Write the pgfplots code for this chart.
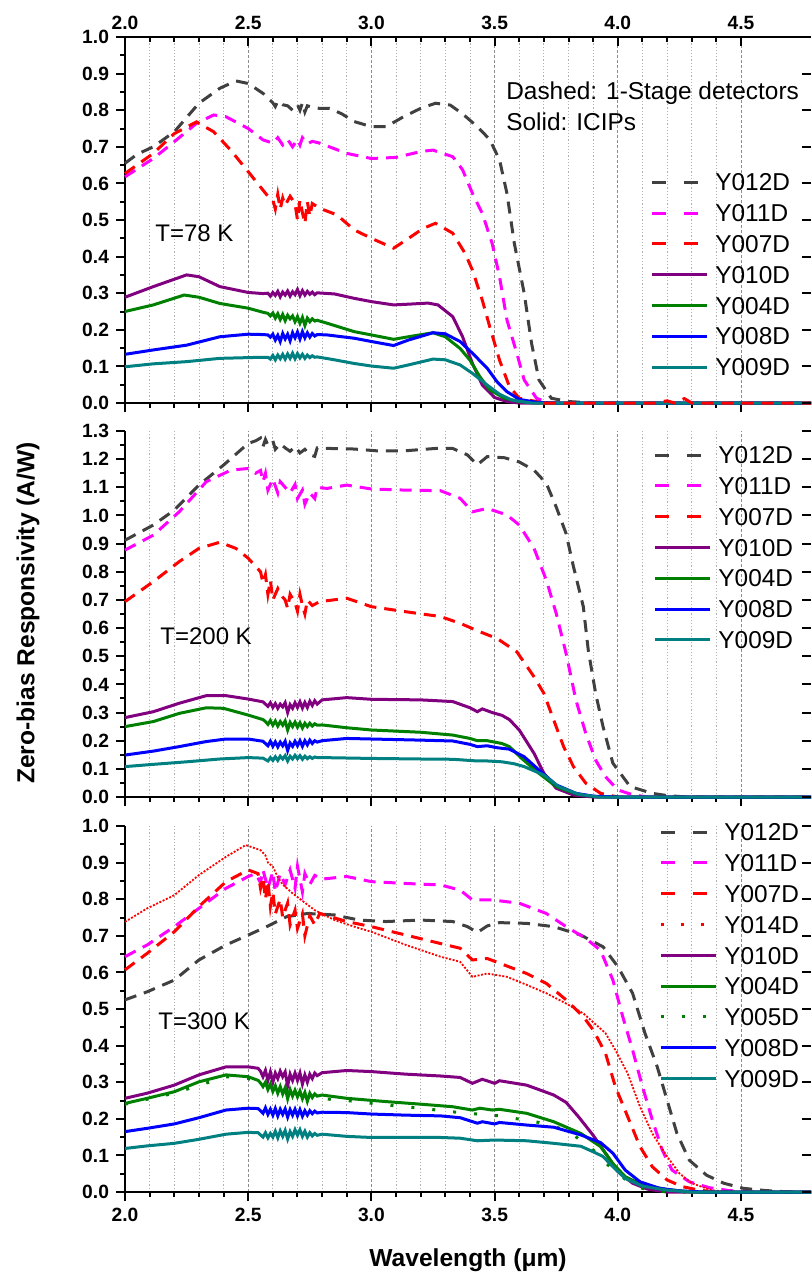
\documentclass[border=0pt]{standalone}
\usepackage{fontspec}
\setmainfont{Liberation Sans}
\usepackage{pgfplots}
\pgfplotsset{compat=1.18}
\definecolor{cgray}{HTML}{404040}
\definecolor{cmag}{HTML}{FF00FF}
\definecolor{cred}{HTML}{FF0000}
\definecolor{cpur}{HTML}{800080}
\definecolor{cgrn}{HTML}{008000}
\definecolor{cblu}{HTML}{0000FF}
\definecolor{cteal}{HTML}{008080}
\pgfplotsset{
 geom/.style={scale only axis, width=343pt, height=183pt, xmin=2, xmax=4.784, ymin=0, anchor=north west},
 base/.style={geom,
   clip=false,
   axis x line*=bottom, axis y line*=left,
   axis line style={line width=1pt},
   every tick/.style={black, line width=1pt},
   tick align=outside, major tick length=4.5pt, minor tick length=2.5pt,
   xtick={2,2.5,3,3.5,4,4.5}, minor x tick num=4,
   minor y tick num=1,
   xmajorgrids, xminorgrids,
   major x grid style={dash pattern=on 1.5pt off 1pt, color=black!45, line width=0.4pt},
   minor x grid style={dash pattern=on 0.6pt off 1pt, color=black!30, line width=0.4pt},
   /pgf/number format/assume math mode=true,
   yticklabel style={font=\bfseries\fontsize{9.6}{9.6}\selectfont, /pgf/number format/fixed, /pgf/number format/fixed zerofill, /pgf/number format/precision=1},
   xticklabel style={font=\bfseries\fontsize{9.6}{9.6}\selectfont, /pgf/number format/fixed, /pgf/number format/fixed zerofill, /pgf/number format/precision=1},
   xticklabels={},
   legend image code/.code={\draw[##1] (0pt,0pt) -- (27.5pt,0pt);},
   legend cell align=left,
   legend style={draw=none, fill=none, inner sep=0pt, outer sep=0pt, row sep=6.7pt, column sep=0pt,
     nodes={font=\fontsize{12.2}{12.2}\selectfont, inner xsep=3.5pt, inner ysep=0pt, text height=8.7pt, text depth=0pt}},
 },
 rticks/.style={geom, axis x line=none, axis y line*=right, y axis line style={draw=none},
   tick align=inside, major tick length=4.5pt, every tick/.style={black, line width=1pt},
   yticklabels={}},
 dsh/.style={line width=1.5pt, dash pattern=on 6pt off 4pt, legend image post style={dash pattern=on 7pt off 9pt}},
 sol/.style={line width=1.5pt},
}
\begin{document}
\begin{tikzpicture}
%================ TOP PANEL (78 K)
\begin{axis}[base, at={(0pt,0pt)}, ymax=1.0,
  ytick={0,0.1,0.2,0.3,0.4,0.5,0.6,0.7,0.8,0.9,1.0},
  legend style={at={(rel axis cs:0.9796,0.627)}, anchor=north east}]
\addplot[dsh, cgray] coordinates {(2.00,0.655)(2.05,0.68)(2.115,0.70)(2.2,0.741)(2.3,0.819)(2.385,0.86)(2.45,0.88)(2.5,0.873)(2.56,0.846)(2.6,0.82)(2.61,0.81)(2.62,0.825)(2.64,0.815)(2.66,0.812)(2.68,0.80)(2.70,0.815)(2.71,0.80)(2.72,0.82)(2.73,0.795)(2.74,0.812)(2.76,0.808)(2.79,0.805)(2.83,0.805)(2.88,0.79)(2.93,0.769)(3.0,0.755)(3.06,0.755)(3.13,0.782)(3.2,0.805)(3.26,0.819)(3.32,0.814)(3.37,0.79)(3.43,0.755)(3.48,0.72)(3.52,0.664)(3.55,0.573)(3.58,0.436)(3.62,0.30)(3.65,0.163)(3.68,0.063)(3.73,0.013)(3.8,0.004)(3.9,0.0)(4.784,0.0)};
\addlegendentry{Y012D}
\addplot[dsh, cmag] coordinates {(2.0,0.618)(2.115,0.668)(2.2,0.714)(2.29,0.764)(2.36,0.787)(2.41,0.782)(2.5,0.75)(2.56,0.719)(2.6,0.71)(2.62,0.725)(2.64,0.705)(2.66,0.72)(2.68,0.70)(2.70,0.72)(2.71,0.705)(2.72,0.725)(2.74,0.708)(2.76,0.715)(2.79,0.71)(2.9,0.682)(3.0,0.668)(3.1,0.671)(3.2,0.687)(3.25,0.691)(3.33,0.673)(3.37,0.637)(3.41,0.573)(3.45,0.518)(3.49,0.436)(3.52,0.345)(3.55,0.227)(3.59,0.136)(3.62,0.063)(3.67,0.013)(3.72,0.0)(4.784,0.0)};
\addlegendentry{Y011D}
\addplot[dsh, cred] coordinates {(2.0,0.627)(2.115,0.682)(2.2,0.736)(2.29,0.768)(2.36,0.741)(2.43,0.69)(2.5,0.632)(2.55,0.59)(2.58,0.565)(2.60,0.555)(2.61,0.53)(2.62,0.57)(2.63,0.53)(2.64,0.56)(2.65,0.54)(2.67,0.565)(2.69,0.545)(2.70,0.50)(2.71,0.555)(2.72,0.52)(2.73,0.49)(2.74,0.55)(2.75,0.51)(2.76,0.545)(2.79,0.532)(2.86,0.514)(2.93,0.473)(3.0,0.45)(3.09,0.423)(3.14,0.445)(3.21,0.477)(3.26,0.491)(3.33,0.464)(3.38,0.409)(3.41,0.363)(3.45,0.281)(3.48,0.209)(3.52,0.117)(3.56,0.045)(3.6,0.013)(3.7,0.0)};
\addlegendentry{Y007D}
\addplot[sol, cpur] coordinates {(2.0,0.289)(2.115,0.318)(2.25,0.35)(2.3,0.345)(2.385,0.318)(2.5,0.302)(2.56,0.299)(2.58,0.300)(2.59,0.292)(2.60,0.302)(2.61,0.294)(2.62,0.305)(2.63,0.290)(2.64,0.303)(2.65,0.295)(2.66,0.306)(2.67,0.292)(2.68,0.304)(2.69,0.296)(2.70,0.31)(2.71,0.293)(2.72,0.307)(2.73,0.295)(2.74,0.305)(2.75,0.297)(2.76,0.303)(2.77,0.296)(2.78,0.301)(2.85,0.298)(2.93,0.286)(3.0,0.277)(3.09,0.268)(3.15,0.27)(3.23,0.273)(3.27,0.268)(3.33,0.236)(3.37,0.181)(3.41,0.108)(3.45,0.049)(3.5,0.015)(3.55,0.004)(3.6,0.0)(4.784,0.0)};
\addlegendentry{Y010D}
\addplot[sol, cgrn] coordinates {(2.0,0.25)(2.115,0.268)(2.24,0.295)(2.3,0.289)(2.385,0.272)(2.5,0.259)(2.56,0.248)(2.58,0.245)(2.59,0.238)(2.60,0.246)(2.61,0.232)(2.62,0.244)(2.63,0.228)(2.64,0.242)(2.65,0.225)(2.66,0.24)(2.67,0.23)(2.68,0.238)(2.69,0.222)(2.70,0.236)(2.71,0.218)(2.72,0.234)(2.73,0.212)(2.74,0.232)(2.75,0.222)(2.76,0.23)(2.77,0.224)(2.78,0.226)(2.82,0.218)(2.93,0.195)(3.0,0.186)(3.09,0.174)(3.15,0.181)(3.25,0.192)(3.3,0.181)(3.36,0.149)(3.4,0.117)(3.44,0.072)(3.48,0.036)(3.54,0.013)(3.6,0.004)(3.7,0.0)(4.784,0.0)};
\addlegendentry{Y004D}
\addplot[sol, cblu] coordinates {(2.0,0.133)(2.115,0.145)(2.25,0.158)(2.385,0.181)(2.5,0.188)(2.56,0.187)(2.58,0.186)(2.59,0.18)(2.60,0.188)(2.61,0.172)(2.62,0.185)(2.63,0.168)(2.64,0.19)(2.65,0.175)(2.66,0.188)(2.67,0.17)(2.68,0.192)(2.69,0.178)(2.70,0.194)(2.71,0.175)(2.72,0.195)(2.73,0.178)(2.74,0.192)(2.75,0.18)(2.76,0.19)(2.77,0.183)(2.78,0.187)(2.82,0.186)(2.93,0.177)(3.0,0.168)(3.09,0.157)(3.15,0.172)(3.25,0.192)(3.3,0.189)(3.36,0.168)(3.41,0.136)(3.47,0.095)(3.51,0.058)(3.55,0.031)(3.6,0.01)(3.67,0.002)(3.75,0.0)(4.784,0.0)};
\addlegendentry{Y008D}
\addplot[sol, cteal] coordinates {(2.0,0.099)(2.115,0.107)(2.25,0.113)(2.385,0.122)(2.5,0.124)(2.56,0.125)(2.58,0.125)(2.59,0.12)(2.60,0.13)(2.61,0.118)(2.62,0.131)(2.63,0.121)(2.64,0.133)(2.65,0.12)(2.66,0.134)(2.67,0.122)(2.68,0.136)(2.69,0.121)(2.70,0.135)(2.71,0.123)(2.72,0.133)(2.73,0.122)(2.74,0.131)(2.75,0.124)(2.76,0.129)(2.77,0.125)(2.78,0.126)(2.85,0.118)(2.93,0.108)(3.0,0.101)(3.09,0.095)(3.15,0.104)(3.25,0.12)(3.3,0.118)(3.36,0.104)(3.41,0.081)(3.47,0.049)(3.52,0.024)(3.57,0.008)(3.65,0.0)(4.784,0.0)};
\addlegendentry{Y009D}
% tail of Y007D (drawn last, on top of the zero line)
\addplot[dsh, cred, forget plot] coordinates {(3.7,0.0)(4.15,0.0)(4.2,0.006)(4.23,0.0)(4.27,0.012)(4.3,0.0)(4.784,0.0)};
\node[anchor=base west, font=\fontsize{12}{12}\selectfont, inner sep=0pt] at (axis cs:2.122,0.44) {T=78 K};
\node[anchor=base west, font=\fontsize{12.2}{12.2}\selectfont, inner sep=0pt] at (axis cs:3.546,0.828) {Dashed: 1-Stage detectors};
\node[anchor=base west, font=\fontsize{12.2}{12.2}\selectfont, inner sep=0pt] at (axis cs:3.546,0.744) {Solid: ICIPs};
\end{axis}
\begin{axis}[geom, at={(0pt,0pt)}, ymax=1.0, axis y line=none, axis x line*=top,
  axis line style={line width=1pt}, every tick/.style={black, line width=1pt},
  tick align=inside, major tick length=4.5pt, minor tick length=2.5pt,
  xtick={2,2.5,3,3.5,4,4.5}, minor x tick num=4,
  /pgf/number format/assume math mode=true,
  xticklabel style={font=\bfseries\fontsize{9.6}{9.6}\selectfont, /pgf/number format/fixed, /pgf/number format/fixed zerofill, /pgf/number format/precision=1}]
\end{axis}
\begin{axis}[rticks, at={(0pt,0pt)}, ymax=1.0, ytick={0,0.1,0.2,0.3,0.4,0.5,0.6,0.7,0.8,0.9,1.0}]
\end{axis}
%================ MIDDLE PANEL (200 K)
\begin{axis}[base, at={(0pt,-197pt)}, ymax=1.3,
  ytick={0,0.1,0.2,0.3,0.4,0.5,0.6,0.7,0.8,0.9,1.0,1.1,1.2,1.3},
  legend style={at={(rel axis cs:0.984,0.958)}, anchor=north east}]
\addplot[dsh, cgray] coordinates {(2.0,0.912)(2.115,0.966)(2.2,1.019)(2.3,1.108)(2.4,1.179)(2.5,1.256)(2.53,1.265)(2.55,1.275)(2.56,1.245)(2.57,1.27)(2.58,1.25)(2.60,1.265)(2.61,1.235)(2.63,1.255)(2.65,1.24)(2.67,1.228)(2.69,1.245)(2.71,1.222)(2.73,1.235)(2.75,1.215)(2.77,1.21)(2.78,1.24)(2.83,1.238)(2.93,1.236)(3.03,1.229)(3.14,1.23)(3.26,1.238)(3.33,1.238)(3.39,1.215)(3.43,1.18)(3.47,1.209)(3.54,1.205)(3.6,1.19)(3.66,1.161)(3.71,1.114)(3.75,1.03)(3.79,0.936)(3.82,0.818)(3.86,0.676)(3.88,0.522)(3.91,0.368)(3.94,0.25)(3.98,0.12)(4.05,0.037)(4.14,0.013)(4.2,0.005)(4.28,0.0)(4.784,0.0)};
\addlegendentry{Y012D}
\addplot[dsh, cmag] coordinates {(2.0,0.877)(2.115,0.93)(2.22,1.013)(2.33,1.12)(2.43,1.161)(2.5,1.167)(2.53,1.15)(2.55,1.16)(2.56,1.12)(2.57,1.15)(2.58,1.09)(2.60,1.13)(2.62,1.08)(2.63,1.12)(2.65,1.10)(2.67,1.08)(2.69,1.11)(2.70,1.06)(2.72,1.09)(2.73,1.04)(2.75,1.08)(2.77,1.06)(2.78,1.10)(2.82,1.096)(2.9,1.108)(3.0,1.094)(3.14,1.09)(3.28,1.088)(3.36,1.061)(3.41,1.013)(3.47,1.025)(3.55,1.002)(3.6,0.966)(3.66,0.883)(3.71,0.77)(3.75,0.652)(3.79,0.51)(3.83,0.344)(3.87,0.226)(3.91,0.131)(3.95,0.072)(4.0,0.025)(4.06,0.008)(4.12,0.0)(4.784,0.0)};
\addlegendentry{Y011D}
\addplot[dsh, cred] coordinates {(2.0,0.694)(2.115,0.765)(2.22,0.836)(2.3,0.883)(2.385,0.905)(2.45,0.883)(2.5,0.848)(2.55,0.80)(2.56,0.76)(2.57,0.79)(2.58,0.72)(2.59,0.77)(2.60,0.70)(2.62,0.74)(2.63,0.72)(2.65,0.70)(2.66,0.67)(2.67,0.72)(2.69,0.69)(2.70,0.66)(2.71,0.72)(2.72,0.68)(2.73,0.65)(2.74,0.70)(2.76,0.68)(2.79,0.694)(2.9,0.706)(3.0,0.676)(3.14,0.658)(3.28,0.641)(3.36,0.617)(3.44,0.587)(3.51,0.563)(3.59,0.516)(3.66,0.427)(3.7,0.368)(3.74,0.273)(3.78,0.179)(3.82,0.108)(3.87,0.049)(3.93,0.013)(4.0,0.0)(4.784,0.0)};
\addlegendentry{Y007D}
\addplot[sol, cpur] coordinates {(2.0,0.282)(2.115,0.303)(2.22,0.333)(2.33,0.36)(2.41,0.36)(2.5,0.348)(2.56,0.338)(2.57,0.33)(2.58,0.322)(2.59,0.335)(2.60,0.318)(2.61,0.332)(2.62,0.315)(2.63,0.33)(2.64,0.32)(2.65,0.335)(2.66,0.30)(2.67,0.328)(2.68,0.315)(2.69,0.335)(2.70,0.318)(2.71,0.338)(2.72,0.316)(2.73,0.336)(2.74,0.318)(2.75,0.34)(2.76,0.325)(2.77,0.342)(2.78,0.33)(2.80,0.345)(2.9,0.353)(3.0,0.347)(3.2,0.345)(3.33,0.339)(3.4,0.317)(3.43,0.303)(3.45,0.313)(3.49,0.30)(3.53,0.29)(3.56,0.275)(3.6,0.238)(3.66,0.155)(3.7,0.084)(3.75,0.031)(3.82,0.007)(3.9,0.0)(4.784,0.0)};
\addlegendentry{Y010D}
\addplot[sol, cgrn] coordinates {(2.0,0.25)(2.115,0.268)(2.22,0.297)(2.33,0.317)(2.4,0.315)(2.5,0.291)(2.56,0.275)(2.57,0.268)(2.58,0.258)(2.59,0.272)(2.60,0.255)(2.61,0.27)(2.62,0.252)(2.63,0.268)(2.64,0.255)(2.65,0.27)(2.66,0.238)(2.67,0.265)(2.68,0.25)(2.69,0.266)(2.70,0.248)(2.71,0.264)(2.72,0.245)(2.73,0.262)(2.74,0.25)(2.75,0.262)(2.76,0.252)(2.77,0.26)(2.78,0.255)(2.8,0.256)(2.9,0.246)(3.0,0.238)(3.2,0.23)(3.33,0.22)(3.4,0.208)(3.43,0.20)(3.47,0.20)(3.53,0.19)(3.56,0.179)(3.61,0.137)(3.68,0.084)(3.75,0.037)(3.83,0.011)(3.9,0.002)(4.0,0.0)(4.784,0.0)};
\addlegendentry{Y004D}
\addplot[sol, cblu] coordinates {(2.0,0.149)(2.115,0.163)(2.22,0.179)(2.33,0.197)(2.41,0.206)(2.5,0.206)(2.56,0.198)(2.57,0.19)(2.58,0.182)(2.59,0.198)(2.60,0.18)(2.61,0.196)(2.62,0.178)(2.63,0.195)(2.64,0.182)(2.65,0.198)(2.66,0.165)(2.67,0.192)(2.68,0.18)(2.69,0.198)(2.70,0.182)(2.71,0.2)(2.72,0.18)(2.73,0.2)(2.74,0.185)(2.75,0.202)(2.76,0.19)(2.77,0.2)(2.78,0.195)(2.8,0.2)(2.9,0.208)(3.0,0.206)(3.2,0.202)(3.33,0.199)(3.4,0.187)(3.43,0.179)(3.47,0.182)(3.51,0.175)(3.56,0.17)(3.62,0.143)(3.68,0.096)(3.75,0.043)(3.83,0.013)(3.9,0.003)(4.0,0.0)(4.784,0.0)};
\addlegendentry{Y008D}
\addplot[sol, cteal] coordinates {(2.0,0.108)(2.115,0.116)(2.25,0.125)(2.385,0.135)(2.5,0.14)(2.56,0.138)(2.57,0.133)(2.58,0.128)(2.59,0.14)(2.60,0.13)(2.61,0.143)(2.62,0.13)(2.63,0.145)(2.64,0.135)(2.65,0.147)(2.66,0.128)(2.67,0.145)(2.68,0.135)(2.69,0.148)(2.70,0.136)(2.71,0.147)(2.72,0.134)(2.73,0.145)(2.74,0.136)(2.75,0.143)(2.76,0.137)(2.77,0.142)(2.78,0.14)(2.8,0.14)(3.0,0.137)(3.2,0.135)(3.33,0.134)(3.43,0.128)(3.47,0.128)(3.53,0.125)(3.58,0.118)(3.62,0.108)(3.7,0.078)(3.76,0.037)(3.84,0.01)(3.92,0.0)(4.784,0.0)};
\addlegendentry{Y009D}
\node[anchor=base west, font=\fontsize{12}{12}\selectfont, inner sep=0pt] at (axis cs:2.142,0.54) {T=200 K};
\end{axis}
\begin{axis}[rticks, at={(0pt,-197pt)}, ymax=1.3, ytick={0,0.1,0.2,0.3,0.4,0.5,0.6,0.7,0.8,0.9,1.0,1.1,1.2,1.3}]
\end{axis}
%================ BOTTOM PANEL (300 K)
\begin{axis}[base, at={(0pt,-394.5pt)}, ymax=1.0,
  ytick={0,0.1,0.2,0.3,0.4,0.5,0.6,0.7,0.8,0.9,1.0},
  xticklabels={2.0,2.5,3.0,3.5,4.0,4.5},
  legend style={at={(rel axis cs:0.9927,1.007)}, anchor=north east}]
\addplot[dsh, cgray] coordinates {(2.0,0.525)(2.09,0.547)(2.2,0.579)(2.3,0.634)(2.41,0.675)(2.5,0.702)(2.575,0.725)(2.655,0.752)(2.74,0.761)(2.85,0.757)(2.95,0.743)(3.06,0.739)(3.2,0.743)(3.33,0.739)(3.39,0.725)(3.43,0.709)(3.47,0.727)(3.52,0.736)(3.63,0.734)(3.74,0.725)(3.85,0.702)(3.9,0.684)(3.94,0.67)(4.0,0.616)(4.06,0.543)(4.11,0.434)(4.16,0.342)(4.2,0.251)(4.24,0.16)(4.29,0.087)(4.36,0.046)(4.43,0.024)(4.51,0.01)(4.6,0.004)(4.7,0.0)(4.784,0.0)};
\addlegendentry{Y012D}
\addplot[dsh, cmag] coordinates {(2.0,0.643)(2.09,0.675)(2.2,0.725)(2.3,0.775)(2.41,0.83)(2.5,0.862)(2.53,0.87)(2.55,0.845)(2.56,0.88)(2.58,0.83)(2.60,0.875)(2.61,0.82)(2.63,0.87)(2.65,0.84)(2.67,0.88)(2.69,0.83)(2.70,0.89)(2.72,0.82)(2.73,0.87)(2.75,0.84)(2.77,0.865)(2.80,0.855)(2.9,0.862)(3.0,0.848)(3.14,0.843)(3.28,0.839)(3.36,0.825)(3.41,0.798)(3.49,0.798)(3.6,0.789)(3.71,0.761)(3.79,0.725)(3.87,0.693)(3.93,0.66)(3.98,0.579)(4.02,0.479)(4.06,0.388)(4.1,0.288)(4.14,0.197)(4.18,0.115)(4.22,0.06)(4.29,0.028)(4.37,0.012)(4.45,0.004)(4.55,0.0)(4.784,0.0)};
\addlegendentry{Y011D}
\addplot[dsh, cred] coordinates {(2.0,0.607)(2.09,0.652)(2.2,0.711)(2.3,0.78)(2.41,0.848)(2.5,0.88)(2.54,0.87)(2.55,0.83)(2.56,0.86)(2.57,0.80)(2.58,0.85)(2.59,0.78)(2.60,0.82)(2.61,0.76)(2.63,0.80)(2.64,0.75)(2.66,0.79)(2.67,0.73)(2.69,0.77)(2.70,0.72)(2.72,0.76)(2.73,0.70)(2.75,0.755)(2.77,0.73)(2.79,0.761)(2.9,0.739)(3.0,0.725)(3.14,0.702)(3.28,0.679)(3.36,0.666)(3.41,0.634)(3.47,0.638)(3.54,0.62)(3.63,0.597)(3.71,0.57)(3.79,0.525)(3.86,0.479)(3.9,0.443)(3.95,0.379)(3.99,0.288)(4.04,0.206)(4.09,0.124)(4.14,0.069)(4.2,0.033)(4.26,0.015)(4.33,0.005)(4.4,0.0)(4.784,0.0)};
\addlegendentry{Y007D}
\addplot[cred, line width=0.9pt, dash pattern=on 1pt off 0.8pt, legend image post style={line width=1.5pt, dash pattern=on 1.5pt off 8.5pt}] coordinates {(2.0,0.738)(2.09,0.775)(2.2,0.811)(2.3,0.866)(2.41,0.916)(2.49,0.948)(2.55,0.934)(2.57,0.92)(2.58,0.90)(2.60,0.889)(2.62,0.86)(2.64,0.84)(2.68,0.816)(2.77,0.77)(2.85,0.743)(2.93,0.725)(3.0,0.711)(3.14,0.675)(3.28,0.643)(3.36,0.629)(3.41,0.588)(3.47,0.597)(3.55,0.588)(3.63,0.566)(3.71,0.543)(3.79,0.515)(3.86,0.488)(3.95,0.434)(3.99,0.388)(4.04,0.324)(4.09,0.233)(4.14,0.16)(4.2,0.097)(4.25,0.051)(4.3,0.024)(4.38,0.005)(4.45,0.0)(4.784,0.0)};
\addlegendentry{Y014D}
\addplot[sol, cpur] coordinates {(2.0,0.256)(2.09,0.27)(2.2,0.292)(2.3,0.32)(2.41,0.342)(2.5,0.342)(2.54,0.338)(2.55,0.33)(2.56,0.315)(2.57,0.332)(2.58,0.305)(2.59,0.328)(2.60,0.30)(2.61,0.325)(2.62,0.31)(2.63,0.33)(2.64,0.315)(2.65,0.328)(2.66,0.29)(2.67,0.322)(2.68,0.305)(2.69,0.325)(2.70,0.305)(2.71,0.325)(2.72,0.295)(2.73,0.32)(2.74,0.30)(2.75,0.322)(2.76,0.31)(2.77,0.325)(2.78,0.318)(2.80,0.326)(2.9,0.332)(3.0,0.329)(3.14,0.322)(3.28,0.317)(3.36,0.313)(3.41,0.297)(3.45,0.308)(3.5,0.297)(3.52,0.304)(3.63,0.292)(3.74,0.265)(3.79,0.245)(3.84,0.206)(3.9,0.155)(3.95,0.106)(4.0,0.056)(4.06,0.024)(4.12,0.008)(4.2,0.0)(4.784,0.0)};
\addlegendentry{Y010D}
\addplot[sol, cgrn] coordinates {(2.0,0.242)(2.09,0.256)(2.2,0.274)(2.3,0.301)(2.41,0.32)(2.5,0.315)(2.54,0.305)(2.55,0.298)(2.56,0.288)(2.57,0.3)(2.58,0.28)(2.59,0.295)(2.60,0.275)(2.61,0.29)(2.62,0.27)(2.63,0.288)(2.64,0.268)(2.65,0.285)(2.66,0.255)(2.67,0.28)(2.68,0.262)(2.69,0.278)(2.70,0.26)(2.71,0.276)(2.72,0.255)(2.73,0.272)(2.74,0.248)(2.75,0.27)(2.76,0.258)(2.77,0.268)(2.78,0.262)(2.80,0.265)(2.9,0.256)(3.06,0.247)(3.2,0.24)(3.33,0.233)(3.41,0.224)(3.44,0.229)(3.49,0.224)(3.52,0.226)(3.63,0.215)(3.74,0.192)(3.85,0.16)(3.93,0.124)(3.98,0.078)(4.03,0.042)(4.1,0.019)(4.2,0.007)(4.3,0.0)(4.784,0.0)};
\addlegendentry{Y004D}
\addplot[cgrn, line width=1.5pt, dash pattern=on 1.5pt off 9pt] coordinates {(2.0,0.24)(2.2,0.27)(2.41,0.315)(2.5,0.31)(2.7,0.26)(2.9,0.25)(3.06,0.238)(3.2,0.229)(3.33,0.219)(3.43,0.213)(3.52,0.208)(3.6,0.199)(3.68,0.19)(3.76,0.175)(3.82,0.156)(3.9,0.115)(3.95,0.08)(4.0,0.05)(4.05,0.025)(4.1,0.01)(4.2,0.0)(4.784,0.0)};
\addlegendentry{Y005D}
\addplot[sol, cblu] coordinates {(2.0,0.165)(2.09,0.174)(2.2,0.186)(2.3,0.203)(2.41,0.224)(2.5,0.229)(2.54,0.228)(2.55,0.222)(2.56,0.215)(2.57,0.23)(2.58,0.212)(2.59,0.226)(2.60,0.21)(2.61,0.228)(2.62,0.208)(2.63,0.226)(2.64,0.212)(2.65,0.227)(2.66,0.205)(2.67,0.225)(2.68,0.21)(2.69,0.226)(2.70,0.208)(2.71,0.225)(2.72,0.207)(2.73,0.222)(2.74,0.21)(2.75,0.222)(2.76,0.214)(2.77,0.221)(2.78,0.216)(2.8,0.218)(2.9,0.217)(3.0,0.213)(3.14,0.21)(3.28,0.208)(3.36,0.203)(3.43,0.188)(3.45,0.192)(3.5,0.186)(3.52,0.19)(3.63,0.183)(3.74,0.177)(3.85,0.156)(3.93,0.135)(3.98,0.106)(4.03,0.06)(4.09,0.028)(4.17,0.01)(4.25,0.003)(4.35,0.0)(4.784,0.0)};
\addlegendentry{Y008D}
\addplot[sol, cteal] coordinates {(2.0,0.119)(2.09,0.126)(2.2,0.133)(2.3,0.144)(2.41,0.158)(2.5,0.163)(2.54,0.162)(2.55,0.156)(2.56,0.15)(2.57,0.162)(2.58,0.148)(2.59,0.16)(2.60,0.15)(2.61,0.166)(2.62,0.148)(2.63,0.167)(2.64,0.152)(2.65,0.168)(2.66,0.145)(2.67,0.165)(2.68,0.152)(2.69,0.17)(2.70,0.155)(2.71,0.17)(2.72,0.152)(2.73,0.166)(2.74,0.15)(2.75,0.162)(2.76,0.153)(2.77,0.16)(2.78,0.155)(2.8,0.158)(2.9,0.152)(3.0,0.149)(3.28,0.149)(3.36,0.147)(3.43,0.14)(3.5,0.142)(3.63,0.14)(3.74,0.133)(3.85,0.125)(3.9,0.11)(3.94,0.097)(3.98,0.069)(4.03,0.037)(4.1,0.016)(4.2,0.005)(4.3,0.0)(4.784,0.0)};
\addlegendentry{Y009D}
\node[anchor=base west, font=\fontsize{12}{12}\selectfont, inner sep=0pt] at (axis cs:2.134,0.443) {T=300 K};
\end{axis}
\begin{axis}[rticks, at={(0pt,-394.5pt)}, ymax=1.0, ytick={0,0.1,0.2,0.3,0.4,0.5,0.6,0.7,0.8,0.9,1.0}]
\end{axis}
%================ axis titles
\node[rotate=90, font=\bfseries\fontsize{12.3}{12.3}\selectfont] at (-48.5pt,-288pt) {Zero-bias Responsivity (A/W)};
\node[font=\bfseries\fontsize{12.3}{12.3}\selectfont] at (171.5pt,-611.5pt) {Wavelength (μm)};
\pgfresetboundingbox
\useasboundingbox (-62.5pt,18.5pt) rectangle (343pt,-618.5pt);
\end{tikzpicture}
\end{document}
